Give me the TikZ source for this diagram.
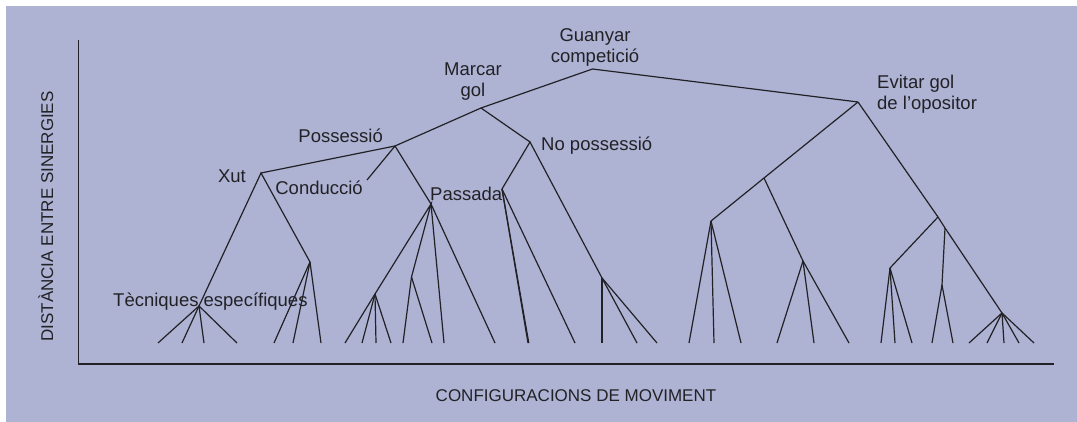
\documentclass[tikz,border=0pt]{standalone}
\usepackage{fontspec}
\setmainfont{Liberation Sans}
\definecolor{lavanda}{RGB}{174,178,211}
\definecolor{tinta}{RGB}{34,34,38}

\begin{document}
\begin{tikzpicture}[x=1pt, y=-1pt,
    branca/.style={tinta, line width=1.2pt},
    eix/.style={tinta, line width=1.6pt},
    etiq/.style={text=tinta, inner sep=0pt, font=\fontsize{18.5}{21}\selectfont},
    titol/.style={text=tinta, inner sep=0pt, font=\fontsize{17}{20}\selectfont}]
\useasboundingbox (0,0) rectangle (1077,422);
\fill [lavanda] (6,6) rectangle (1077,422);
%
\coordinate (ytop) at (78.5,40);
\coordinate (orig) at (78.5,364);
\coordinate (xfin) at (1054,364);
\draw [eix] (ytop) -- (orig) -- (xfin);
\node [titol, rotate=90, anchor=base] (ylab) at (53,216.5) {DISTÀNCIA ENTRE SINERGIES};
\node [titol, anchor=base] (xlab) at (576,401) {CONFIGURACIONS DE MOVIMENT};
%
\coordinate (guanyar) at (592.5,69);
\coordinate (marcar) at (481,108);
\coordinate (evitar) at (858,102);
\coordinate (poss) at (395,146);
\coordinate (noposs) at (530,142);
\coordinate (xut) at (261,173);
\coordinate (cond) at (367,180);
\coordinate (pas) at (431,204);
\coordinate (npa) at (502,189);
\coordinate (npb) at (602,278);
\coordinate (tec) at (199,306);
\coordinate (x2) at (310,262);
\coordinate (pa) at (375,294);
\coordinate (pb) at (411.5,277);
\coordinate (em) at (764,178);
\coordinate (e1) at (711,221);
\coordinate (e2) at (803,261);
\coordinate (r) at (938,217);
\coordinate (rb) at (945,228);
\coordinate (r1) at (890,268);
\coordinate (r2) at (942,285);
\coordinate (r3) at (1002,313);
%
\draw [branca] (marcar) -- (guanyar) -- (evitar);
\draw [branca] (poss) -- (marcar) -- (noposs);
\draw [branca] (xut) -- (poss) -- (pas);
\draw [branca] (poss) -- (cond);
\draw [branca] (tec) -- (xut) -- (x2);
\draw [branca] (npa) -- (noposs) -- (npb);
\draw [branca] (pa) -- (pas) -- (pb);
\draw [branca] (evitar) -- (em) -- (e1);
\draw [branca] (em) -- (e2);
\draw [branca] (evitar) -- (r) -- (rb) -- (r3);
\draw [branca] (r) -- (r1);
\draw [branca] (rb) -- (r2);
%
\foreach \pare/\fulles in {tec/{158,182,204,237}, x2/{274,293,321}, pa/{345,362,376,391},
    pb/{403,432}, pas/{444,495}, npa/{528,528.8,575}, npb/{602,637,657},
    e1/{689,714,741}, e2/{777,814,849}, r1/{881,895,912}, r2/{932,953},
    r3/{969,987,1004,1019,1034}}
  \foreach \x [count=\i] in \fulles {
    \coordinate (\pare-f\i) at (\x,343);
    \draw [branca] (\pare) -- (\pare-f\i);
  }
%
\node [etiq, align=center] (lguanyar) at (595,47) {Guanyar\\competició};
\node [etiq, align=center] (lmarcar) at (473,82) {Marcar\\gol};
\node [etiq, align=left, anchor=west] (levitar) at (877,94) {Evitar gol\\de l’opositor};
\node [etiq, anchor=base east] (lposs) at (383,142.5) {Possessió};
\node [etiq, anchor=base west] (lnoposs) at (541,150.7) {No possessió};
\node [etiq, anchor=base east] (lxut) at (246,182.5) {Xut};
\node [etiq, anchor=base east] (lcond) at (363,195) {Conducció};
\node [etiq, anchor=base west] (lpas) at (430,201) {Passada};
\node [etiq, anchor=base west] (ltec) at (113,306) {Tècniques específiques};
%%%%%%%%%%%%%%%%%%%%%%%%%%%%%%%
\end{tikzpicture}
\end{document}
